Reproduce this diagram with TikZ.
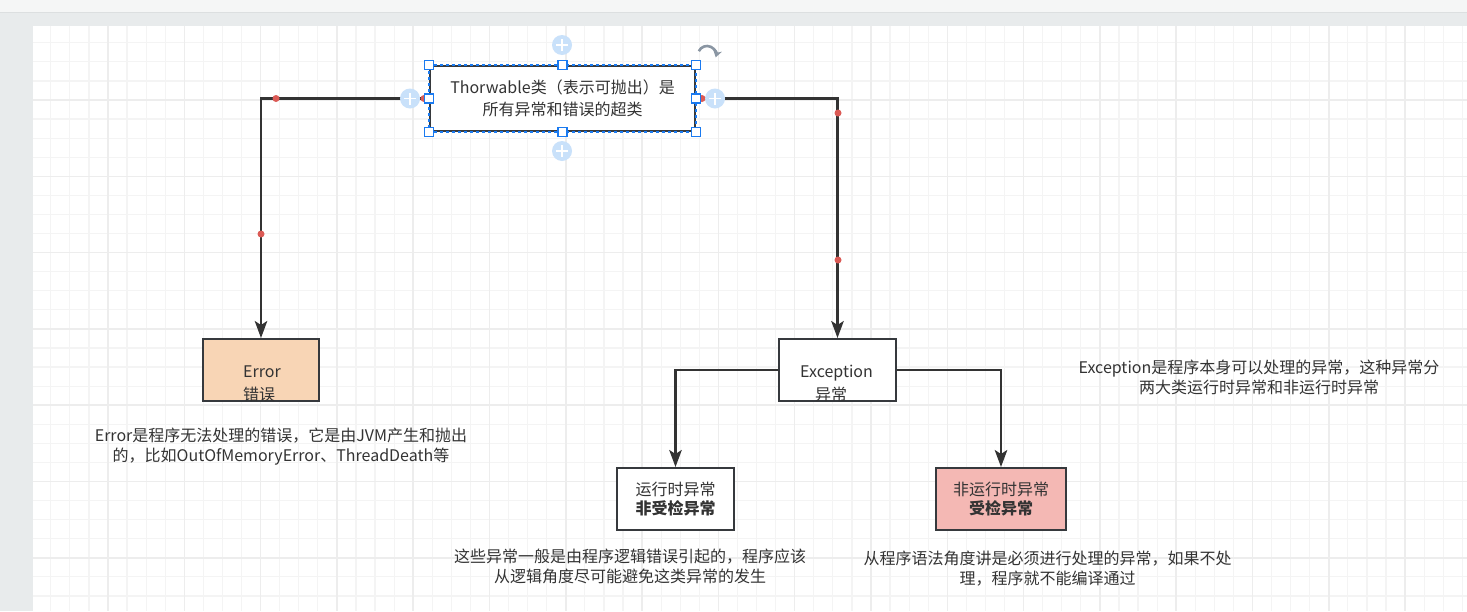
\documentclass[tikz,border=0pt]{standalone}
\usepackage{fontspec}
\setmainfont{Noto Sans CJK SC}
\usetikzlibrary{arrows.meta}

\definecolor{ink}{HTML}{333333}
\definecolor{edge}{HTML}{36393D}
\definecolor{topbar}{HTML}{F5F6F6}
\definecolor{frame}{HTML}{E8EBEC}
\definecolor{sepline}{HTML}{DCDFE0}
\definecolor{gridminor}{HTML}{F4F4F4}
\definecolor{gridmajor}{HTML}{EDEDED}
\definecolor{peach}{HTML}{F8D5B5}
\definecolor{rose}{HTML}{F4B8B4}
\definecolor{selblue}{HTML}{1A7AF0}
\definecolor{hintblue}{HTML}{C9E1FA}
\definecolor{waypt}{HTML}{DB5A55}
\definecolor{rotgray}{HTML}{8A96A3}

\tikzset{
  txt/.style={font=\fontsize{16pt}{20pt}\selectfont, text=ink, inner sep=0pt},
  box/.style={draw=edge, line width=2pt, inner sep=0pt, txt},
  conn/.style={draw=ink, line width=2.2pt},
  arr/.style={conn, -{Stealth[length=17pt,width=12.5pt,inset=4pt]}},
  wpdot/.style={circle, fill=waypt, minimum size=7pt, inner sep=0pt},
  handle/.style={draw=selblue, fill=white, line width=1.6pt, minimum size=9pt, inner sep=0pt, outer sep=0pt},
  hint/.style={circle, fill=hintblue, minimum size=20pt, inner sep=0pt,
    path picture={\draw[white, line width=1.8pt]
      ([xshift=-6pt]path picture bounding box.center) -- ([xshift=6pt]path picture bounding box.center)
      ([yshift=-6pt]path picture bounding box.center) -- ([yshift=6pt]path picture bounding box.center);}},
}

\begin{document}
\begin{tikzpicture}[x=1pt, y=-1pt]
\useasboundingbox (0,0) rectangle (1467,611);

% editor chrome and canvas
\fill[topbar] (0,0) rectangle (1467,12);
\fill[frame] (0,12) rectangle (1467,611);
\draw[sepline, line width=1pt] (0,12.5) -- (1467,12.5);
\fill[white] (33,26) rectangle (1467,611);

% background grid
\begin{scope}
  \clip (33,26) rectangle (1467,611);
  \foreach \k in {0,...,75} {\draw[gridminor, line width=1.2pt] ({31.7+19.075*\k},26) -- ++(0,585);}
  \foreach \k in {0,...,31} {\draw[gridminor, line width=1.2pt] (33,{23.7+19.075*\k}) -- ++(1434,0);}
  \foreach \k in {0,...,19} {\draw[gridmajor, line width=1.5pt] ({31.7+76.3*\k},26) -- ++(0,585);}
  \foreach \k in {0,...,8} {\draw[gridmajor, line width=1.5pt] (33,{23.7+76.3*\k}) -- ++(1434,0);}
\end{scope}

% class boxes
\node[box, fill=white, minimum width=265pt, minimum height=65pt,
      align=center, font=\fontsize{16pt}{22pt}\selectfont] (thr) at (562.5,98.5)
  {Thorwable类（表示可抛出）是\\所有异常和错误的超类};
\node[box, fill=peach, minimum width=116pt, minimum height=62pt] (err) at (261,370) {};
\node[box, fill=white, minimum width=117pt, minimum height=62pt] (exc) at (837.5,370) {};
\node[box, fill=white, minimum width=117pt, minimum height=62pt, align=center,
      font=\fontsize{16pt}{19pt}\selectfont] (rte) at (675.5,499)
  {运行时异常\\\textbf{非受检异常}};
\node[box, fill=rose, minimum width=130pt, minimum height=62pt, align=center,
      font=\fontsize{16pt}{19pt}\selectfont] (nrte) at (1001,499)
  {非运行时异常\\\textbf{受检异常}};

% labels of the two middle boxes
\node[txt, anchor=west, align=left, font=\fontsize{16pt}{23pt}\selectfont] (errtxt) at (243,383.5)
  {Error\\错误};
\node[txt, anchor=west, align=left, font=\fontsize{16pt}{23pt}\selectfont] (exctxt) at (800,383)
  {Exception\\\hspace*{15pt}异常};

% connectors
\draw[arr] (thr.west) -| (err.north);
\draw[arr] (thr.east) -| (exc.north);
\draw[arr] (exc.west) -| (rte.north);
\draw[arr] (exc.east) -| (nrte.north);

% waypoints on the connectors
\node[wpdot] (wl1) at (276,98.5) {};
\node[wpdot] (wl2) at (261,234) {};
\node[wpdot] (wr1) at (838,113) {};
\node[wpdot] (wr2) at (838,260) {};
\node[wpdot] (wl0) at (424,98.5) {};
\node[wpdot] (wr0) at (702,98.5) {};

% notes
\node[txt, align=center] (errnote) at (281,446.5)
  {Error是程序无法处理的错误，它是由JVM产生和抛出\\的，比如OutOfMemoryError、ThreadDeath等};
\node[txt, align=center] (excnote) at (1259,377)
  {Exception是程序本身可以处理的异常，这种异常分\\两大类运行时异常和非运行时异常};
\node[txt, align=center] (rtenote) at (630,566)
  {这些异常一般是由程序逻辑错误引起的，程序应该\\从逻辑角度尽可能避免这类异常的发生};
\node[txt, align=center] (nrtenote) at (1047.5,569)
  {从程序语法角度讲是必须进行处理的异常，如果不处\\理，程序就不能编译通过};

% selection overlay on the top box
\draw[selblue, line width=1.3pt, dash pattern=on 3pt off 3pt] (thr.north west) rectangle (thr.south east);
\node[hint] (hn) at (562,45) {};
\node[hint] (hs) at (562,151) {};
\node[hint] (hw) at (410,98.5) {};
\node[hint] (he) at (715,98.5) {};
\foreach \a in {north west,north,north east,east,south east,south,south west,west}
  {\node[handle] (h-\a) at (thr.\a) {};}
\coordinate (rotc) at (707,55);
\draw[rotgray, line width=2.6pt, -{Stealth[length=7pt,width=9pt]}]
  ([shift={(205:9)}]rotc) arc[start angle=205, end angle=375, radius=9];
\end{tikzpicture}
\end{document}
